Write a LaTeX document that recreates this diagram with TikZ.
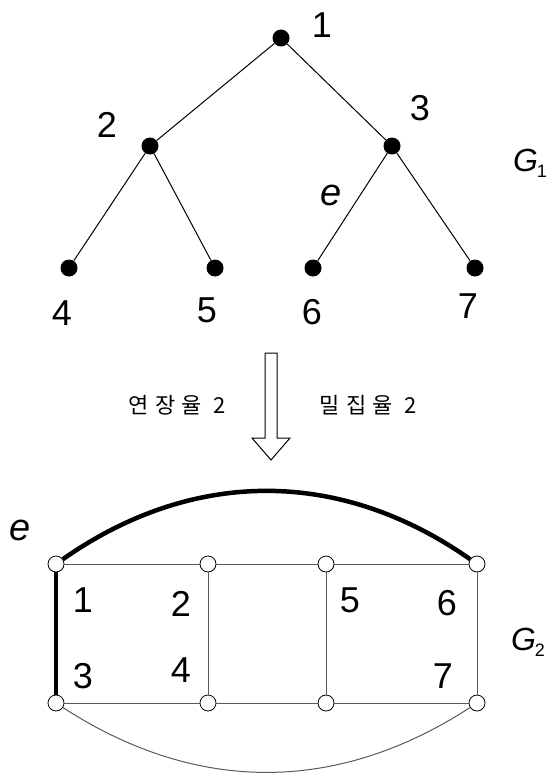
\documentclass[tikz,border=0pt]{standalone}
\usepackage{fontspec}
\setmainfont{Liberation Sans}
\newfontfamily\krfont[LetterSpace=30]{Noto Sans CJK KR}
\begin{document}
\begin{tikzpicture}[x=1pt,y=-1pt,
  dot/.style={circle,fill=black,inner sep=0pt,minimum size=17pt},
  ring/.style={circle,draw=black,fill=white,line width=0.8pt,inner sep=0pt,minimum size=16pt},
  tedge/.style={line width=1pt},
  gedge/.style={draw=black!65,line width=1pt},
  heavy/.style={line width=4.5pt},
  num/.style={inner sep=0pt,font=\fontsize{36}{40}\selectfont},
  ename/.style={inner sep=0pt,font=\fontsize{38}{42}\selectfont\itshape},
  gname/.style={inner sep=0pt,font=\fontsize{32}{34}\selectfont},
  krlabel/.style={inner sep=0pt,font=\fontsize{22}{26}\selectfont\krfont}
]
\useasboundingbox (0,0) rectangle (550,773);

% ---- tree G1 ----
\node[dot] (n1) at (281,38) {};
\node[dot] (n2) at (150,146) {};
\node[dot] (n3) at (392,146) {};
\node[dot] (n4) at (69,268) {};
\node[dot] (n5) at (215,268) {};
\node[dot] (n6) at (313,268) {};
\node[dot] (n7) at (475,268) {};
\draw[tedge] (n1) -- (n2);
\draw[tedge] (n1) -- (n3);
\draw[tedge] (n2) -- (n4);
\draw[tedge] (n2) -- (n5);
\draw[tedge] (n3) -- (n6);
\draw[tedge] (n3) -- (n7);

\node[num] (l1) at (322,25) {1};
\node[num] (l2) at (107,125) {2};
\node[num] (l3) at (420,108) {3};
\node[num] (l4) at (62,313) {4};
\node[num] (l5) at (207,310) {5};
\node[num] (l6) at (312,312) {6};
\node[num] (l7) at (468,306) {7};
\node[ename] (le) at (331,195) {e};
\node[gname] (g1) at (530,163) {\itshape G\kern-1pt\raisebox{-6pt}{\upshape\fontsize{18}{18}\selectfont 1}};

% ---- hollow arrow ----
\draw[line width=1pt,fill=white] (265,353) -- (277,353) -- (277,438) -- (290,438)
  -- (271,460) -- (252,438) -- (265,438) -- cycle;
\node[krlabel] (k1) at (177,405) {연장율 2};
\node[krlabel] (k2) at (368,405) {밀집율 2};

% ---- graph G2 ----
\node[ring] (t1) at (56,564) {};
\node[ring] (t2) at (208,564) {};
\node[ring] (t3) at (326,564) {};
\node[ring] (t4) at (477,564) {};
\node[ring] (b1) at (56,703) {};
\node[ring] (b2) at (208,703) {};
\node[ring] (b3) at (326,703) {};
\node[ring] (b4) at (477,703) {};
\draw[gedge] (t1) -- (t2) -- (t3) -- (t4);
\draw[gedge] (b1) -- (b2) -- (b3) -- (b4);
\draw[gedge] (t2) -- (b2);
\draw[gedge] (t3) -- (b3);
\draw[gedge] (t4) -- (b4);
\draw[heavy] (t1) -- (b1);
\draw[heavy] (t1) to[bend left=35] (t4);
\draw[gedge] (b1) to[bend right=33] (b4);

\node[num] (m1) at (83,600) {1};
\node[num] (m2) at (181,604) {2};
\node[num] (m3) at (83,676) {3};
\node[num] (m4) at (181,670) {4};
\node[num] (m5) at (350,600) {5};
\node[num] (m6) at (447,603) {6};
\node[num] (m7) at (443,676) {7};
\node[ename] (me) at (20,530) {e};
\node[gname] (g2) at (528,642) {\itshape G\kern-1pt\raisebox{-6pt}{\upshape\fontsize{18}{18}\selectfont 2}};
\end{tikzpicture}
\end{document}
